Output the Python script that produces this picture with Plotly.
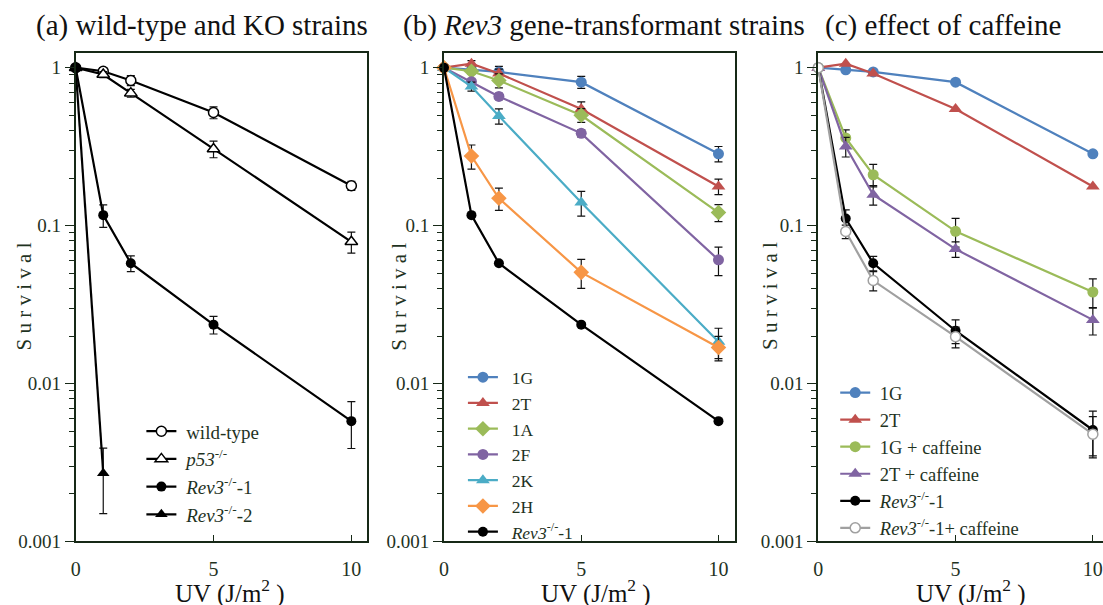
import plotly.graph_objects as go

W, H = 1103, 605

# UV doses (J/m^2)
uv = [0, 1, 2, 5, 10]
uv_short = [0, 1]

# (a) wild-type and KO strains
wt = [1, 0.95, 0.83, 0.52, 0.179]
wt_err = [0, 0.05, 0.06, 0.045, 0.012]
p53 = [1, 0.905, 0.69, 0.306, 0.079]
p53_err = [0, 0.04, 0.04, 0.037, 0.012]
rev3_1 = [1, 0.1165, 0.0578, 0.0236, 0.00578]
rev3_1_err = [0, 0.019, 0.0066, 0.003, 0.0019]
rev3_2 = [1, 0.0027]
rev3_2_err = [0, 0.0012]

# (b) Rev3 gene-transformant strains
g1 = [1, 0.97, 0.94, 0.81, 0.285]
g1_err = [0, 0.05, 0.08, 0.07, 0.032]
t2 = [1, 1.06, 0.92, 0.548, 0.177]
t2_err = [0, 0.05, 0.06, 0.06, 0.02]
a1 = [1, 0.95, 0.83, 0.50, 0.121]
a1_err = [0, 0.04, 0.085, 0.05, 0.015]
f2 = [1, 0.815, 0.658, 0.384, 0.0607]
f2_err = [0, 0.03, 0.03, 0.02, 0.0125]
k2 = [1, 0.76, 0.494, 0.14, 0.0184]
k2_err = [0, 0.05, 0.055, 0.025, 0.004]
h2 = [1, 0.276, 0.149, 0.0506, 0.0169]
h2_err = [0, 0.048, 0.024, 0.0105, 0.003]

# (c) effect of caffeine
g1_caf = [1, 0.359, 0.21, 0.092, 0.038]
g1_caf_err = [0, 0.045, 0.034, 0.019, 0.008]
t2_caf = [1, 0.317, 0.157, 0.071, 0.0253]
t2_caf_err = [0, 0.045, 0.022, 0.008, 0.005]
rev3_c = [1, 0.111, 0.0578, 0.0216, 0.00508]
rev3_c_err = [0, 0.015, 0.006, 0.0037, 0.0016]
rev3_caf = [1, 0.0918, 0.0449, 0.0198, 0.00478]
rev3_caf_err = [0, 0.009, 0.0063, 0.003, 0.0014]

BLUE, RED, GREEN = "#4F81BD", "#C0504D", "#9BBB59"
PURPLE, CYAN, ORANGE = "#8064A2", "#4BACC6", "#F79646"
GRAY = "#A0A0A0"
INK = "#1f331f"
FRAME = "#172917"
SERIF = "'Liberation Serif', 'Times New Roman', Times, 'DejaVu Serif', serif"

NB = "\u00a0"
REV3 = "<i>Rev3</i><sup>-/-</sup>-1"

fig = go.Figure()


def add(x, y, err, name, color, symbol, size, axis, legend,
        fill=None, line_color=None, outline=None):
    ax_x = "x" if axis == 1 else f"x{axis}"
    ax_y = "y" if axis == 1 else f"y{axis}"
    marker = dict(symbol=symbol, size=size, color=fill or color,
                  line=dict(width=1.5 if outline else 0, color=outline or color))
    kw = {}
    if err is not None:
        kw["error_y"] = dict(type="data", array=err, visible=True,
                             color="#111111", thickness=1.2, width=4)
    fig.add_trace(go.Scatter(
        x=x, y=y, name=name, mode="lines+markers",
        line=dict(color=line_color or color, width=2.2),
        marker=marker, xaxis=ax_x, yaxis=ax_y, legend=legend,
        cliponaxis=False, **kw))


# panel (a)
pa = NB
add(uv, wt, wt_err, pa + "wild-type", "black", "circle", 10, 1, "legend",
    fill="white", line_color="black", outline="black")
add(uv, p53, p53_err, pa + "<i>p53</i><sup>-/-</sup>", "black", "triangle-up",
    11, 1, "legend", fill="white", line_color="black", outline="black")
add(uv, rev3_1, rev3_1_err, pa + REV3, "black", "circle", 10, 1, "legend")
add(uv_short, rev3_2, rev3_2_err, pa + "<i>Rev3</i><sup>-/-</sup>-2", "black",
    "triangle-up", 11, 1, "legend")

# panel (b)
pb = NB * 2
add(uv, g1, g1_err, pb + "1G", BLUE, "circle", 11, 2, "legend2")
add(uv, t2, t2_err, pb + "2T", RED, "triangle-up", 12, 2, "legend2")
add(uv, a1, a1_err, pb + "1A", GREEN, "diamond", 12, 2, "legend2")
add(uv, f2, f2_err, pb + "2F", PURPLE, "circle", 11, 2, "legend2")
add(uv, k2, k2_err, pb + "2K", CYAN, "triangle-up", 12, 2, "legend2")
add(uv, h2, h2_err, pb + "2H", ORANGE, "diamond", 12, 2, "legend2")
add(uv, rev3_1, None, pb + REV3, "black", "circle", 10, 2, "legend2")

# panel (c)
pc = NB
add(uv, g1, None, pc + "1G", BLUE, "circle", 11, 3, "legend3")
add(uv, t2, None, pc + "2T", RED, "triangle-up", 12, 3, "legend3")
add(uv, g1_caf, g1_caf_err, pc + "1G + caffeine", GREEN, "circle", 11, 3, "legend3")
add(uv, t2_caf, t2_caf_err, pc + "2T + caffeine", PURPLE, "triangle-up", 12, 3,
    "legend3")
add(uv, rev3_c, rev3_c_err, pc + REV3, "black", "circle", 10, 3, "legend3")
add(uv, rev3_caf, rev3_caf_err, pc + REV3 + "+ caffeine", GRAY, "circle", 10, 3,
    "legend3", fill="white", line_color=GRAY, outline=GRAY)

# axes
y_dom = [1 - 551.5 / H, 1 - 54 / H]
x_doms = [[71 / W, 364 / W], [441 / W, 733 / W], [817 / W, 1.0]]
x_ranges = [[0, 10.58], [0, 10.59], [0, 10.37]]
minor_vals = [m * 10 ** e for e in (-3, -2, -1) for m in range(2, 10)]

for i in range(3):
    sx = "" if i == 0 else str(i + 1)
    fig.update_layout(**{
        f"xaxis{sx}": dict(
            domain=x_doms[i], range=x_ranges[i], anchor=f"y{sx}",
            showgrid=False, zeroline=False, showline=True, linewidth=2,
            linecolor=FRAME, mirror=True, ticks="inside", ticklen=6,
            tickcolor=FRAME, tickwidth=1, tickvals=[0, 5, 10],
            ticktext=["0", "5", "10"], ticklabelstandoff=9,
            tickfont=dict(family=SERIF, size=20, color=INK)),
        f"yaxis{sx}": dict(
            domain=y_dom, type="log", range=[-3, 0.093], anchor=f"x{sx}",
            showgrid=False, zeroline=False, showline=True, linewidth=2,
            linecolor=FRAME, mirror=(i < 2), ticks="outside", ticklen=9,
            tickcolor=FRAME, tickwidth=1,
            tickvals=[0.001, 0.01, 0.1, 1],
            ticktext=["0.001", "0.01", "0.1", "1"],
            tickfont=dict(family=SERIF, size=19, color=INK),
            minor=dict(ticks="outside", ticklen=5, tickcolor=FRAME,
                       tickwidth=1, tickvals=minor_vals, showgrid=False)),
    })


def legend_box(x_px, y_px, size):
    return dict(x=x_px / W, y=1 - y_px / H, xanchor="left", yanchor="top",
                bgcolor="rgba(0,0,0,0)", borderwidth=0,
                font=dict(family=SERIF, size=size, color=INK),
                itemwidth=30, tracegroupgap=0)


fig.update_layout(
    legend=legend_box(137, 420, 19),
    legend2=legend_box(460, 366, 17.5),
    legend3=legend_box(834, 381, 18.5),
)

# panel titles and axis titles
titles = ["(a) wild-type and KO strains",
          "(b) <i>Rev3</i> gene-transformant strains",
          "(c) effect of caffeine"]
title_x = [29, 398, 822]
ytitle_x = [19, 395, 768]
xtitle_x = [226, 594, 970]

annotations = []
for i in range(3):
    annotations.append(dict(
        text=titles[i], x=title_x[i] / W, y=1 - 26 / H, xref="paper",
        yref="paper", xanchor="left", yanchor="middle", showarrow=False,
        font=dict(family=SERIF, size=29, color="#111111")))
    annotations.append(dict(
        text="S u r v i v a l", x=ytitle_x[i] / W, y=1 - 302 / H,
        xref="paper", yref="paper", xanchor="center", yanchor="middle",
        textangle=-90, showarrow=False,
        font=dict(family=SERIF, size=21, color=INK)))
    annotations.append(dict(
        text="UV (J/m<sup>2</sup> )", x=xtitle_x[i] / W, y=1 - 602 / H,
        xref="paper", yref="paper", xanchor="center", yanchor="middle",
        showarrow=False, font=dict(family=SERIF, size=25, color="#111111")))

fig.update_layout(
    width=W, height=H, autosize=False,
    margin=dict(l=0, r=0, t=0, b=0),
    paper_bgcolor="white", plot_bgcolor="white",
    showlegend=True, annotations=annotations,
)

fig.write_html("out.html")
